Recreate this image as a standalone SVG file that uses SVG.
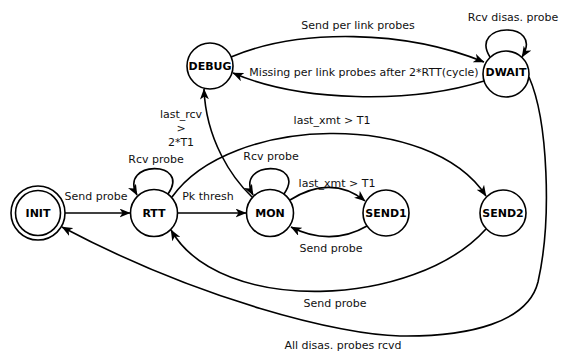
<svg xmlns="http://www.w3.org/2000/svg" width="564" height="351" viewBox="0 0 564 351">
<style>
.node circle{fill:#fff;stroke:#000;stroke-width:1.6}
.node text{font-family:"DejaVu Sans",sans-serif;font-size:11px;font-weight:bold;text-anchor:middle;fill:#000}
.edges path{fill:none;stroke:#000;stroke-width:1.6;marker-end:url(#ah)}
.lbl{font-family:"DejaVu Sans",sans-serif;font-size:11px;text-anchor:middle;fill:#111}
</style>
<defs>
<marker id="ah" viewBox="0 0 11 9" refX="10.5" refY="4.5" markerWidth="11" markerHeight="9" orient="auto" markerUnits="userSpaceOnUse">
<path d="M0,0 L11,4.5 L0,9 L3,4.5 z" fill="#000"/>
</marker>
</defs>
<rect width="564" height="351" fill="#fff"/>
<g class="edges">
<path d="M64 213 L130 213"/>
<path d="M178 213 L246 213"/>
<path d="M168 194 C192 160 118 160 137 195"/>
<path d="M284 194 C308 160 234 160 253 195"/>
<path d="M290 200 C315 184 342 182 365 201"/>
<path d="M367 226 C343 240 316 240 291 227"/>
<path d="M172 197 C230 115 430 110 486 196"/>
<path d="M486 229 C415 308 220 316 171 230"/>
<path d="M252 197 C232 178 206 140 204 89"/>
<path d="M231 57 C300 28 405 30 484 62"/>
<path d="M484 81 C410 104 300 102 233 73"/>
<path d="M490 57 C468 22 545 20 522 57"/>
<path d="M529 77 C548 120 552 220 538 282 C528 322 470 337 400 336 C340 335 200 300 62 227"/>
</g>
<g class="labels">
<text class="lbl" x="96" y="200">Send probe</text>
<text class="lbl" x="156" y="163">Rcv probe</text>
<text class="lbl" x="208" y="200">Pk thresh</text>
<text class="lbl" x="271" y="160">Rcv probe</text>
<text class="lbl" x="337" y="187">last_xmt &gt; T1</text>
<text class="lbl" x="331" y="252">Send probe</text>
<text class="lbl" x="332" y="124">last_xmt &gt; T1</text>
<text class="lbl" x="181" y="118">last_rcv</text>
<text class="lbl" x="181" y="132">&gt;</text>
<text class="lbl" x="181" y="146">2*T1</text>
<text class="lbl" x="358" y="29">Send per link probes</text>
<text class="lbl" x="364" y="76">Missing per link probes after 2*RTT(cycle)</text>
<text class="lbl" x="513" y="21">Rcv disas. probe</text>
<text class="lbl" x="335" y="307">Send probe</text>
<text class="lbl" x="343" y="349">All disas. probes rcvd</text>
</g>
<g id="INIT" class="node"><circle cx="38" cy="213" r="27"/><circle cx="38" cy="213" r="22.5"/><text x="38" y="217">INIT</text></g>
<g id="RTT" class="node"><circle cx="154" cy="213" r="23.5"/><text x="154" y="217">RTT</text></g>
<g id="MON" class="node"><circle cx="270" cy="213" r="23.5"/><text x="270" y="217">MON</text></g>
<g id="SEND1" class="node"><circle cx="386" cy="213" r="23"/><text x="386" y="217">SEND1</text></g>
<g id="SEND2" class="node"><circle cx="503" cy="213" r="23"/><text x="503" y="217">SEND2</text></g>
<g id="DEBUG" class="node"><circle cx="210" cy="66" r="23"/><text x="210" y="70">DEBUG</text></g>
<g id="DWAIT" class="node"><circle cx="506" cy="74" r="23"/><text x="506" y="76">DWAIT</text></g>
</svg>
